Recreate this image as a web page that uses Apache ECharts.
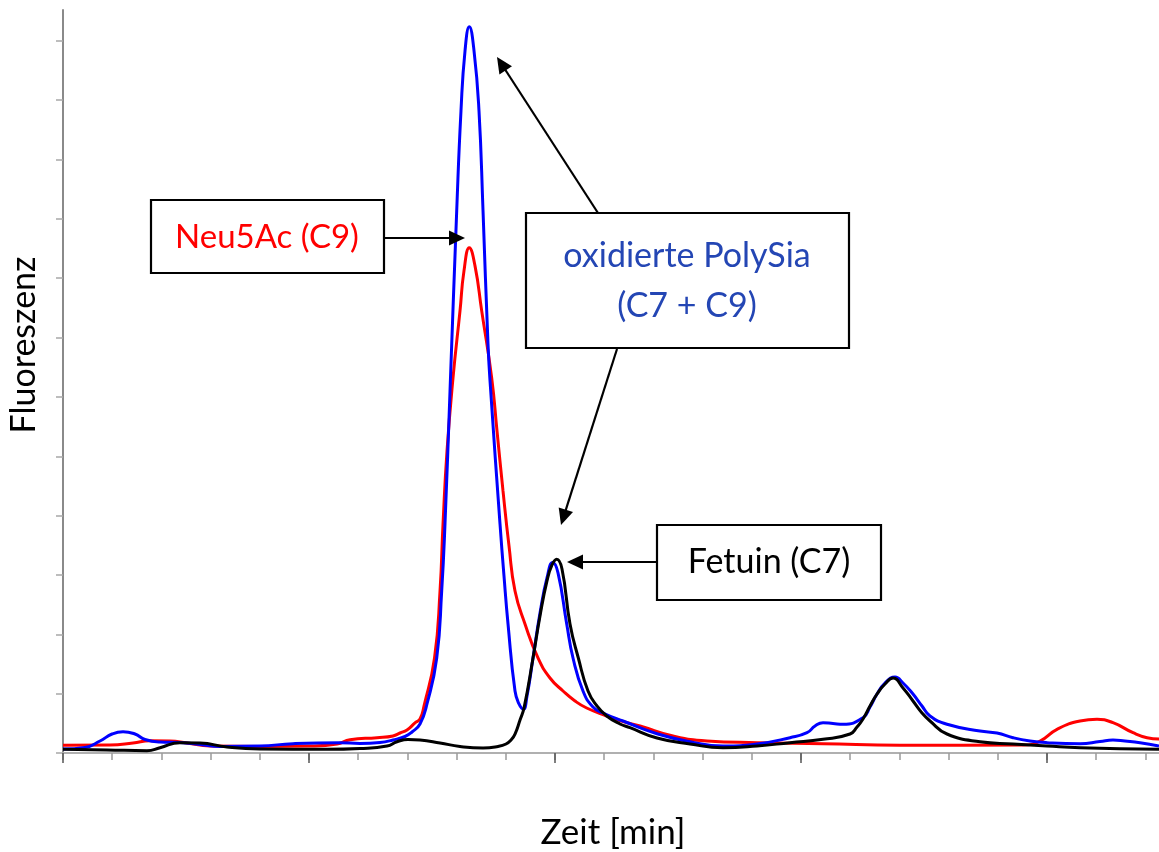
<!DOCTYPE html>
<html>
<head>
<meta charset="utf-8">
<script src="https://cdn.jsdelivr.net/npm/echarts@6/dist/echarts.min.js"></script>
<style>html,body{margin:0;padding:0;background:#fff;}#c{width:1159px;height:852px;}</style>
</head>
<body>
<div id="c"></div>
<script>
// ---- data (time in minor-tick units, fluorescence in arbitrary units) ----
const redT = [0,0.955,1.423,1.768,2.175,2.520,2.988,4.004,5.020,5.569,5.833,6.382,6.707,6.850,6.992,7.154,7.256,7.337,7.551,7.663,7.724,7.805,7.927,8.069,8.150,8.258,8.374,8.510,8.713,8.821,8.943,9.065,9.187,9.390,9.654,9.898,10.163,10.407,10.644,11.051,11.382,11.728,12.398,13.089,14.106,15.447,17.012,19.512,19.858,20.203,20.671,21.016,21.341,21.748,22.033,22.276];
const redY = [0.130,0.135,0.169,0.207,0.202,0.169,0.118,0.110,0.118,0.152,0.224,0.258,0.287,0.337,0.388,0.506,0.573,0.792,1.601,2.731,3.860,5.090,6.321,7.450,8.124,8.512,8.208,7.450,6.321,5.427,4.416,3.489,2.731,2.174,1.601,1.264,1.045,0.876,0.758,0.624,0.531,0.455,0.287,0.202,0.174,0.157,0.130,0.135,0.202,0.399,0.539,0.568,0.511,0.342,0.258,0.236];

const blueT = [0,0.447,0.752,0.996,1.220,1.463,1.667,1.972,2.378,2.785,3.191,4.004,4.675,5.630,6.037,6.443,6.707,6.951,7.093,7.256,7.398,7.596,7.697,7.764,7.866,8.002,8.089,8.171,8.258,8.354,8.455,8.537,8.638,8.693,8.882,8.963,9.045,9.187,9.268,9.356,9.431,9.553,9.695,9.837,9.953,10.061,10.238,10.366,10.569,10.772,10.976,11.382,12.073,12.744,13.415,14.106,14.776,15.122,15.285,15.447,15.650,15.854,16.260,16.402,16.545,16.707,16.911,17.073,17.276,17.459,17.622,17.967,18.638,18.984,19.309,19.654,20.0,20.671,21.077,21.341,21.585,21.890,22.276];
const blueY = [0.067,0.093,0.202,0.320,0.359,0.320,0.228,0.185,0.177,0.143,0.110,0.118,0.157,0.174,0.160,0.177,0.219,0.278,0.354,0.489,0.826,1.601,2.731,3.860,6.101,9.135,10.821,11.832,12.237,11.832,10.821,9.135,6.894,6.101,3.860,2.983,2.174,1.045,0.826,0.737,0.961,1.601,2.360,2.950,3.208,3.034,2.174,1.601,1.045,0.775,0.674,0.539,0.325,0.190,0.118,0.152,0.258,0.342,0.455,0.511,0.497,0.484,0.595,0.775,0.994,1.180,1.281,1.180,0.994,0.792,0.624,0.484,0.371,0.337,0.258,0.202,0.174,0.157,0.194,0.219,0.202,0.174,0.118];

const blackT = [0,0.894,1.707,1.972,2.378,2.785,3.333,4.004,5.366,6.037,6.585,6.789,7.012,7.256,7.663,8.069,8.537,8.841,9.004,9.106,9.187,9.289,9.370,9.553,9.695,9.837,9.939,10.035,10.142,10.305,10.474,10.671,10.854,11.051,11.321,11.524,12.073,12.744,13.415,14.106,14.776,15.447,15.996,16.138,16.260,16.402,16.545,16.707,16.870,17.073,17.276,17.459,17.622,17.967,18.638,19.309,20.0,20.671,22.276];
const blackY = [0.062,0.051,0.039,0.089,0.174,0.169,0.101,0.067,0.062,0.076,0.118,0.190,0.228,0.219,0.169,0.110,0.084,0.110,0.152,0.219,0.320,0.556,0.758,1.601,2.309,2.899,3.169,3.265,3.101,2.174,1.601,1.045,0.792,0.624,0.489,0.426,0.253,0.152,0.089,0.118,0.174,0.231,0.320,0.438,0.573,0.792,0.994,1.163,1.264,1.096,0.876,0.674,0.539,0.320,0.190,0.152,0.118,0.089,0.062];

const xMinorTicks = [0,1,2,3,4,5,6,7,8,9,10,11,12,13,14,15,16,17,18,19,20,21,22];
const xMajorTicks = [0,5,10,15,20];
const yTicks = [0,1,2,3,4,5,6,7,8,9,10,11,12];

const xName = 'Zeit [min]';
const yName = 'Fluoreszenz';
const labelNeu = 'Neu5Ac (C9)';
const labelPoly1 = 'oxidierte PolySia';
const labelPoly2 = '(C7 + C9)';
const labelFet = 'Fetuin (C7)';

// ---- chart ----
const X_MAX = 22.276, Y_MAX = 12.52;
const FONT = 'Lato, "Open Sans", sans-serif';
const pairs = (t, y) => t.map((v, i) => [v, y[i]]);

function arrow(x1, y1, x2, y2) {
  const dx = x2 - x1, dy = y2 - y1, L = Math.hypot(dx, dy);
  const ux = dx / L, uy = dy / L, hl = 16, hw = 7.5;
  const bx = x2 - ux * hl, by = y2 - uy * hl;
  return [
    { type: 'line', shape: { x1, y1, x2: bx + ux * 2, y2: by + uy * 2 }, style: { stroke: '#000', lineWidth: 2.2 }, z: 100 },
    { type: 'polygon', shape: { points: [[x2, y2], [bx - uy * hw, by + ux * hw], [bx + uy * hw, by - ux * hw]] }, style: { fill: '#000' }, z: 100 }
  ];
}
function box(x, y, w, h) {
  return { type: 'rect', shape: { x, y, width: w, height: h }, style: { fill: '#fff', stroke: '#000', lineWidth: 2.2 }, z: 100 };
}
function txt(t, x, y, color, size, rot) {
  return { type: 'text', x, y, rotation: rot || 0, style: { text: t, fill: color, font: size + 'px ' + FONT, align: 'center', verticalAlign: 'middle' }, z: 101 };
}

const chart = echarts.init(document.getElementById('c'), null, { renderer: 'canvas' });
chart.setOption({
  animation: false,
  backgroundColor: '#fff',
  grid: { left: 63, right: 0, top: 10, bottom: 99, containLabel: false },
  xAxis: [
    { type: 'value', min: 0, max: X_MAX, position: 'bottom',
      axisLine: { show: true, onZero: false, lineStyle: { color: '#b0b0b0', width: 2 } },
      axisTick: { show: true, customValues: xMinorTicks, length: 7, lineStyle: { color: '#9a9a9a', width: 1.5 } },
      axisLabel: { show: false }, splitLine: { show: false } },
    { type: 'value', min: 0, max: X_MAX, position: 'bottom',
      axisLine: { show: false, onZero: false },
      axisTick: { show: true, customValues: xMajorTicks, length: 10, lineStyle: { color: '#555', width: 1.5 } },
      axisLabel: { show: false }, splitLine: { show: false } }
  ],
  yAxis: { type: 'value', min: 0, max: Y_MAX,
    axisLine: { show: true, lineStyle: { color: '#8a8a8a', width: 2 } },
    axisTick: { show: true, customValues: yTicks, length: 7, lineStyle: { color: '#a8a8a8', width: 1.5 } },
    axisLabel: { show: false }, splitLine: { show: false } },
  series: [
    { type: 'line', data: pairs(redT, redY), showSymbol: false, smooth: 0.5, lineStyle: { color: '#ff0000', width: 3 }, z: 2 },
    { type: 'line', data: pairs(blueT, blueY), showSymbol: false, smooth: 0.5, lineStyle: { color: '#0000ff', width: 3 }, z: 3 },
    { type: 'line', data: pairs(blackT, blackY), showSymbol: false, smooth: 0.5, lineStyle: { color: '#000000', width: 3 }, z: 4 }
  ],
  graphic: [
    txt(yName, 24, 345, '#000', 34, Math.PI / 2),
    txt(xName, 613, 833, '#000', 35),
    box(151, 200, 233, 73),
    txt(labelNeu, 267, 237, '#ff0000', 33),
    ...arrow(384, 238, 465, 238),
    box(526, 213, 323, 135),
    txt(labelPoly1, 687, 256, '#2446b4', 34),
    txt(labelPoly2, 687, 306, '#2446b4', 34),
    ...arrow(598, 213, 497, 57),
    ...arrow(617, 349, 561, 525),
    box(657, 525, 224, 75),
    txt(labelFet, 769, 562, '#000', 34),
    ...arrow(657, 562, 567, 562)
  ]
});
</script>
</body>
</html>
